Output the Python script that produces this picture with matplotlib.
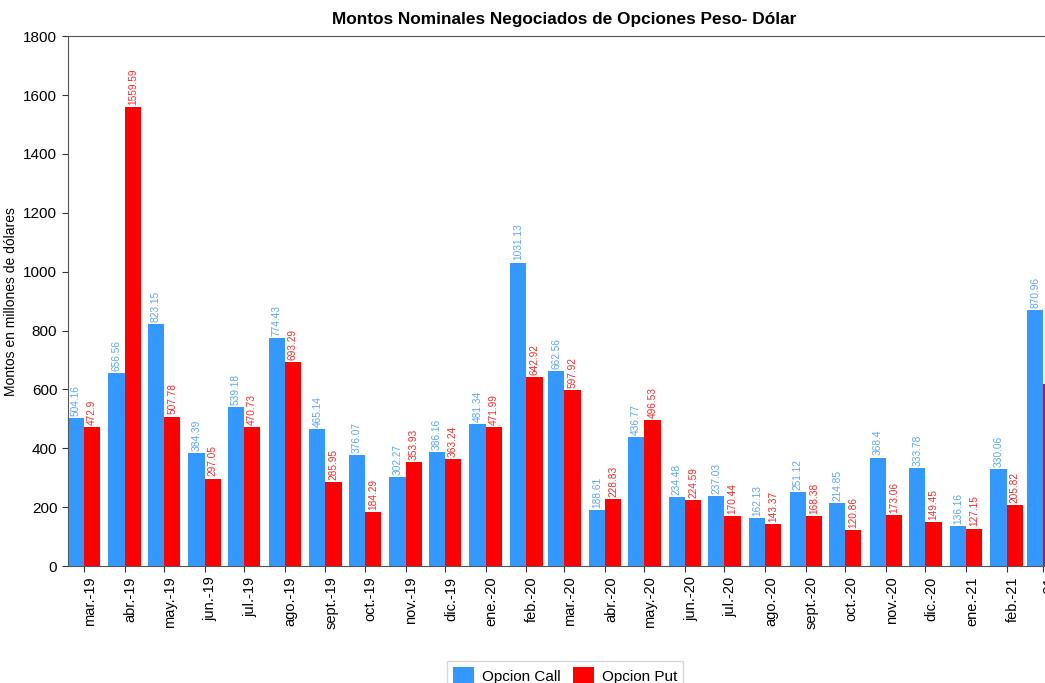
import matplotlib.pyplot as plt
import matplotlib.transforms as mtransforms
import pandas as pd

plt.rcParams['font.family'] = ['Liberation Sans', 'DejaVu Sans']

meses = ["mar.-19", "abr.-19", "may.-19", "jun.-19", "jul.-19", "ago.-19", "sept.-19",
         "oct.-19", "nov.-19", "dic.-19", "ene.-20", "feb.-20", "mar.-20", "abr.-20",
         "may.-20", "jun.-20", "jul.-20", "ago.-20", "sept.-20", "oct.-20", "nov.-20",
         "dic.-20", "ene.-21", "feb.-21", "mar.-21"]
call = [504.16, 656.56, 823.15, 384.39, 539.18, 774.43, 465.14, 376.07, 302.27, 386.16,
        481.34, 1031.13, 662.56, 188.61, 436.77, 234.48, 237.03, 162.13, 251.12, 214.85,
        368.4, 333.78, 136.16, 330.06, 870.96]
put = [472.9, 1559.59, 507.78, 297.05, 470.73, 693.29, 285.95, 184.29, 353.93, 363.24,
       471.99, 642.92, 597.92, 228.83, 496.53, 224.59, 170.44, 143.37, 168.38, 120.86,
       173.06, 149.45, 127.15, 205.82, 620.0]

c_call = '#3399ff'
c_put = '#ff0000'

# x axis is by date (days since first month)
fechas = pd.date_range('2019-03-01', periods=len(meses), freq='MS')
x = (fechas - fechas[0]).days.values.astype(float)
w = 12.4

fig = plt.figure(figsize=(10.45, 6.83), dpi=100)
ax = fig.add_axes([0.0648, 0.1713, 0.9492, 0.7757])

b1 = ax.bar(x - w / 2, call, w, color=c_call, label='Opcion Call')
b2 = ax.bar(x + w / 2, put, w, color=c_put, label='Opcion Put')

for xi, v in zip(x, call):
    ax.annotate(f'{v:g}', (xi - w / 2, v), xytext=(0, 1.5), textcoords='offset points',
                rotation=90, ha='center', va='bottom', fontsize=7.3, color='#5aa8f5')
for xi, v in zip(x, put):
    ax.annotate(f'{v:g}', (xi + w / 2, v), xytext=(0, 1.5), textcoords='offset points',
                rotation=90, ha='center', va='bottom', fontsize=7.3, color='#ff2a2a')

ax.set_xlim(x[0] - w, x[-1] + w)
ax.set_ylim(0, 1800)
ax.set_yticks(range(0, 1801, 200))
ax.set_xticks(x)
ax.set_xticklabels(meses, rotation=90, fontsize=10.5)
ax.tick_params(axis='y', labelsize=11)
ax.tick_params(colors='#333333', length=4)
shift = mtransforms.ScaledTranslation(6 / 100, 0, fig.dpi_scale_trans)
for t in ax.get_xticklabels():
    t.set_transform(t.get_transform() + shift)
for t in ax.get_xticklabels() + ax.get_yticklabels():
    t.set_color('black')
for s in ax.spines.values():
    s.set_color('#555555')

ax.set_ylabel('Montos en millones de dólares', fontsize=10)
fig.text(0.540, 0.972, 'Montos Nominales Negociados de Opciones Peso- Dólar',
         ha='center', va='center', fontsize=12.4, fontweight='bold')

fig.legend(handles=[b1, b2], loc='upper center', bbox_to_anchor=(0.5407, 0.044), ncol=2,
           fontsize=11, frameon=True, fancybox=False, edgecolor='#cccccc',
           handlelength=1.4, handleheight=1.4, columnspacing=0.8, handletextpad=0.5)

plt.savefig('out.png', dpi=100)
